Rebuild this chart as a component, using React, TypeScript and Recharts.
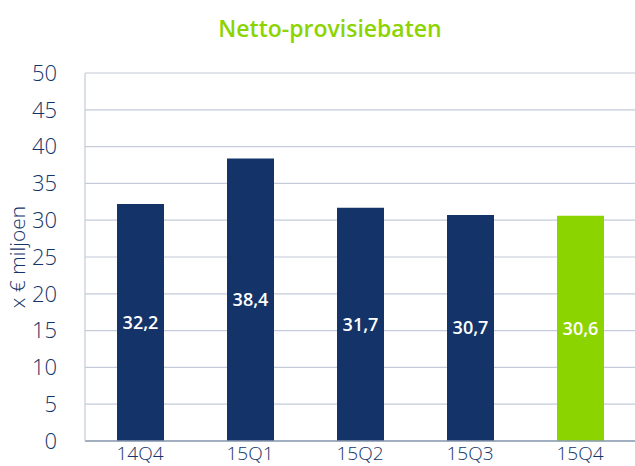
import { BarChart, Bar, XAxis, YAxis, CartesianGrid, Cell, LabelList } from "recharts";

const quarters = ["14Q4", "15Q1", "15Q2", "15Q3", "15Q4"];
const values = [32.2, 38.4, 31.7, 30.7, 30.6];
const yTicks = [0, 5, 10, 15, 20, 25, 30, 35, 40, 45, 50];

const NAVY = "#143368";
const GREEN = "#8cd400";
const FONT = "'Open Sans', 'Noto Sans', sans-serif";

const data = quarters.map((q, i) => ({ quarter: q, value: values[i] }));

export default function App() {
  return (
    <div style={{ position: "absolute", left: 0, top: 0, width: 635, height: 466, fontFamily: FONT }}>
      <div
        style={{
          position: "absolute",
          left: 0,
          top: 12,
          width: 660,
          textAlign: "center",
          color: GREEN,
          fontSize: 23,
          fontWeight: 600,
        }}
      >
        Netto-provisiebaten
      </div>
      <BarChart
        width={635}
        height={466}
        data={data}
        margin={{ top: 73, right: 0, left: 0, bottom: 0 }}
      >
        <CartesianGrid vertical={false} stroke="#c3ccd8" strokeWidth={1.2} />
        <XAxis
          dataKey="quarter"
          height={25}
          tickLine={false}
          axisLine={{ stroke: "#8d9db3", strokeWidth: 1.5 }}
          tick={{ fontSize: 19, fill: NAVY, fontFamily: FONT, fontWeight: 300 }}
          tickMargin={0}
        />
        <YAxis
          width={85}
          domain={[0, 50]}
          ticks={yTicks}
          interval={0}
          tickLine={false}
          axisLine={{ stroke: "#c3ccd8", strokeWidth: 1.2 }}
          tickMargin={22}
          tick={{ fontSize: 22, fill: NAVY, fontFamily: FONT, fontWeight: 300 }}
          label={{
            value: "x € miljoen",
            angle: -90,
            position: "insideLeft",
            offset: 18,
            style: { fontSize: 21, fill: NAVY, fontFamily: FONT, fontWeight: 300, textAnchor: "middle" },
          }}
        />
        <Bar dataKey="value" barSize={47} isAnimationActive={false}>
          {data.map((d, i) => (
            <Cell key={d.quarter} fill={i === data.length - 1 ? GREEN : NAVY} />
          ))}
          <LabelList
            dataKey="value"
            position="center"
            formatter={(v: number) => v.toFixed(1).replace(".", ",")}
            style={{ fill: "#ffffff", fontSize: 18, fontWeight: 600, fontFamily: FONT }}
          />
        </Bar>
      </BarChart>
    </div>
  );
}
